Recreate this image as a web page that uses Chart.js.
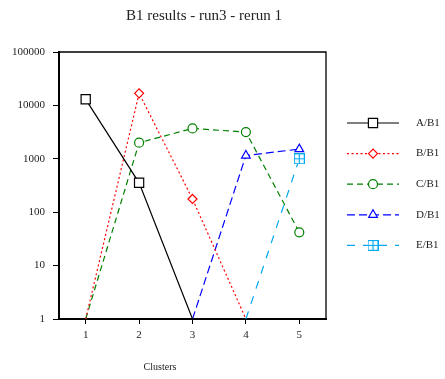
<!DOCTYPE html>
<html>
<head>
<meta charset="utf-8">
<script src="https://cdn.jsdelivr.net/npm/chart.js@4.4.0/dist/chart.umd.min.js"></script>
<style>
  html, body { margin: 0; padding: 0; background: #fff; }
  canvas { display: block; }
</style>
</head>
<body>
<canvas id="chart" width="445" height="379"></canvas>
<script>
// cluster ids along x, series values per cluster (1 = floor of the log axis)
const clusters = ['1', '2', '3', '4', '5'];
const seriesNames = ['A/B1', 'B/B1', 'C/B1', 'D/B1', 'E/B1'];
const seriesA = [13000, 355, 1, null, null];
const seriesB = [1, 16800, 177, 1, null];
const seriesC = [1, 2000, 3700, 3170, 42];
const seriesD = [null, null, 1, 1150, 1520];
const seriesE = [null, null, null, 1, 1000];
const yTicks = [1, 10, 100, 1000, 10000, 100000];
const titleText = 'B1 results - run3 - rerun 1';
const xTitleText = 'Clusters';

const serif = '"Liberation Serif", "Times New Roman", serif';

// square with a cross inside, for series E
function crossBox(color) {
  const c = document.createElement('canvas');
  c.width = 11; c.height = 11;
  const g = c.getContext('2d');
  g.fillStyle = '#fff';
  g.fillRect(0, 0, 11, 11);
  g.strokeStyle = color;
  g.lineWidth = 1.2;
  g.strokeRect(0.5, 0.5, 10, 10);
  g.beginPath();
  g.moveTo(5.5, 0.5); g.lineTo(5.5, 10.5);
  g.moveTo(0.5, 5.5); g.lineTo(10.5, 5.5);
  g.stroke();
  return c;
}

const styles = [
  { color: '#000000', dash: [], marker: 'rect', radius: 6.5 },
  { color: '#ff0000', dash: [2, 2.5], marker: 'rectRot', radius: 4.5 },
  { color: '#008000', dash: [6, 4], marker: 'circle', radius: 4.5 },
  { color: '#0000ff', dash: [8, 4], marker: 'triangle', radius: 5 },
  { color: '#00a8f0', dash: [8, 8], marker: crossBox('#00a8f0'), radius: 5.5 }
];

const allSeries = [seriesA, seriesB, seriesC, seriesD, seriesE];

const datasets = allSeries.map((values, i) => ({
  label: seriesNames[i],
  data: values,
  borderColor: styles[i].color,
  borderWidth: 1.2,
  borderDash: styles[i].dash,
  backgroundColor: '#fff',
  pointStyle: styles[i].marker,
  pointBorderWidth: 1.2,
  pointBackgroundColor: '#fff',
  pointRadius: c => (c.raw === 1 ? 0 : styles[i].radius),
  tension: 0,
  spanGaps: false
}));

// title, axis label, thin top/right frame and the line+marker legend
const decorations = {
  id: 'decorations',
  afterDraw(chart) {
    const ctx = chart.ctx;
    const area = chart.chartArea;
    ctx.save();

    ctx.strokeStyle = '#000';
    ctx.lineWidth = 1.3;
    ctx.beginPath();
    ctx.moveTo(area.left, area.top);
    ctx.lineTo(area.right, area.top);
    ctx.lineTo(area.right, area.bottom);
    ctx.stroke();

    ctx.fillStyle = '#222';
    ctx.textAlign = 'center';
    ctx.textBaseline = 'middle';
    ctx.font = '15px ' + serif;
    ctx.fillText(titleText, 204, 16);
    ctx.font = '10px ' + serif;
    ctx.fillText(xTitleText, 160, 367);

    chart.data.datasets.forEach((ds, i) => {
      const y = 123 + i * 30.6;
      ctx.strokeStyle = ds.borderColor;
      ctx.lineWidth = ds.borderWidth;
      ctx.setLineDash(ds.borderDash);
      ctx.beginPath();
      ctx.moveTo(347, y);
      ctx.lineTo(399, y);
      ctx.stroke();
      ctx.setLineDash([]);
      ctx.fillStyle = '#fff';
      ctx.lineWidth = 1.2;
      Chart.helpers.drawPoint(ctx, {
        pointStyle: ds.pointStyle,
        radius: styles[i].radius,
        rotation: 0,
        borderWidth: 1.2
      }, 373, y);
      ctx.fillStyle = '#222';
      ctx.textAlign = 'left';
      ctx.font = '11px ' + serif;
      ctx.fillText(ds.label, 416, y);
    });
    ctx.restore();
  }
};

new Chart(document.getElementById('chart'), {
  type: 'line',
  data: { labels: clusters, datasets },
  options: {
    responsive: false,
    animation: false,
    devicePixelRatio: 1,
    layout: { padding: { left: 0, top: 52, right: 119, bottom: 0 } },
    plugins: {
      legend: { display: false },
      title: { display: false },
      tooltip: { enabled: false }
    },
    scales: {
      x: {
        type: 'category',
        offset: true,
        grid: { drawOnChartArea: false, drawTicks: true, tickLength: 5, color: '#000', offset: false },
        border: { display: true, color: '#000', width: 2 },
        ticks: { color: '#222', padding: 5, font: { family: serif, size: 11 } },
        afterFit: s => { s.height = 60; }
      },
      y: {
        type: 'logarithmic',
        min: 1,
        max: 100000,
        grid: { drawOnChartArea: false, drawTicks: true, tickLength: 6, color: '#000' },
        border: { display: true, color: '#000', width: 2 },
        ticks: {
          color: '#222',
          padding: 8,
          font: { family: serif, size: 11 },
          callback: v => String(v)
        },
        afterBuildTicks: s => { s.ticks = yTicks.map(v => ({ value: v })); },
        afterFit: s => { s.width = 59; }
      }
    }
  },
  plugins: [decorations]
});
</script>
</body>
</html>
